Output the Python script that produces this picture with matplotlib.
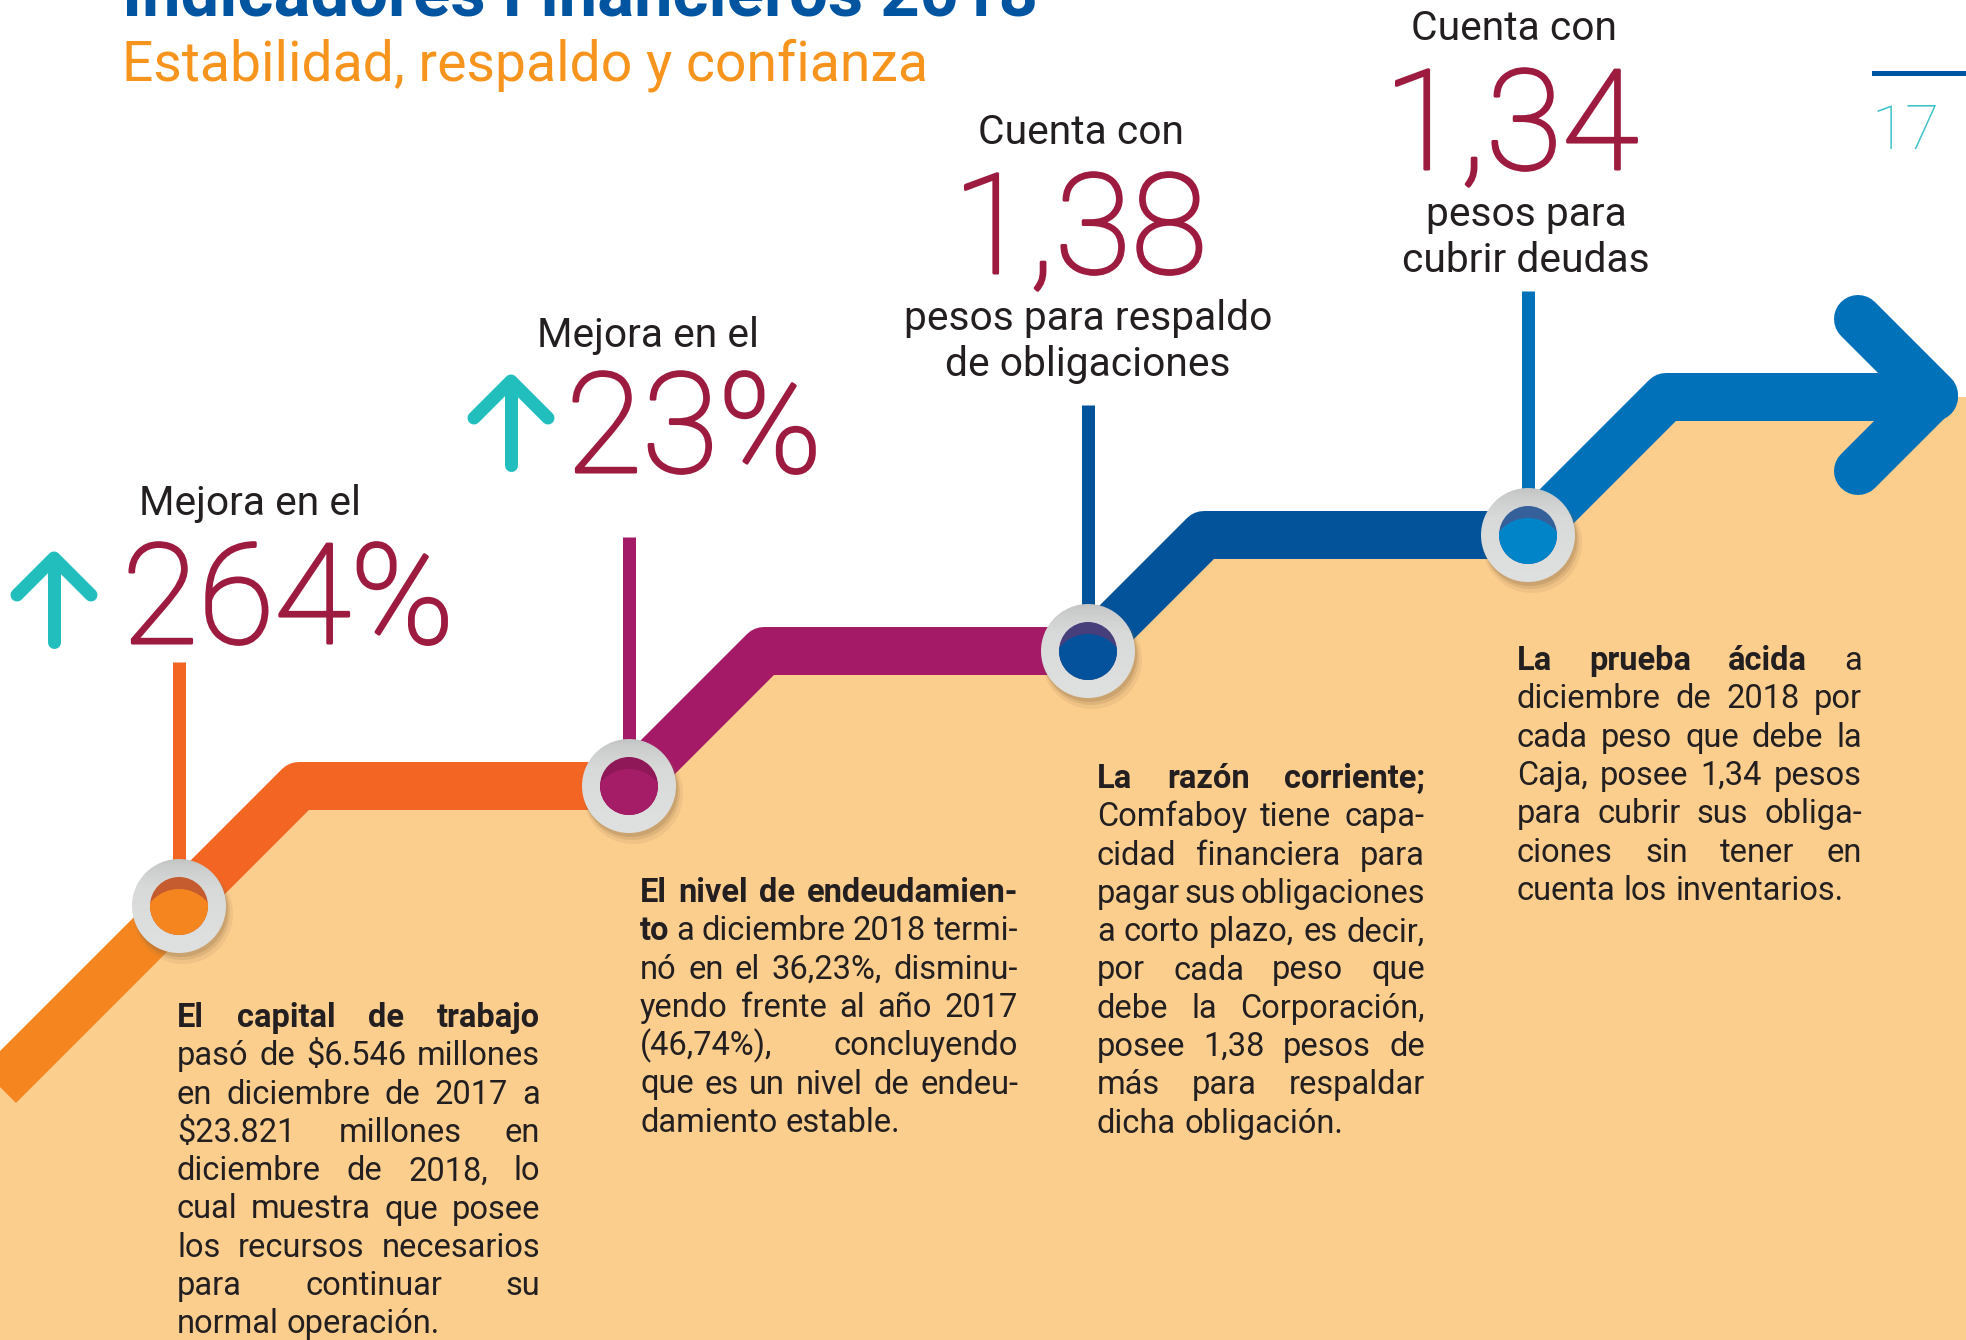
import numpy as np
import matplotlib.pyplot as plt
import matplotlib.patheffects as pe
from matplotlib.patches import Circle, Polygon
from matplotlib.colors import LinearSegmentedColormap


plt.rcParams['font.family'] = ['Roboto', 'DejaVu Sans']

# ---- content ----
title = "Indicadores Financieros 2018"
subtitle = "Estabilidad, respaldo y confianza"
page_number = "17"

intro_labels = ["Mejora en el", "Mejora en el", "Cuenta con", "Cuenta con"]
indicator_values = ["264%", "23%", "1,38", "1,34"]
extra_labels = [[], [], ["pesos para respaldo", "de obligaciones"],
                ["pesos para", "cubrir deudas"]]

# paragraph lines as set in the original (justified), leading words in bold
paragraphs = [
    ["El capital de trabajo",
     "pasó de $6.546 millones",
     "en diciembre de 2017 a",
     "$23.821 millones en",
     "diciembre de 2018, lo",
     "cual muestra que posee",
     "los recursos necesarios",
     "para continuar su",
     "normal operación."],
    ["El nivel de endeudamien-",
     "to a diciembre 2018 termi-",
     "nó en el 36,23%, disminu-",
     "yendo frente al año 2017",
     "(46,74%), concluyendo",
     "que es un nivel de endeu-",
     "damiento estable."],
    ["La razón corriente;",
     "Comfaboy tiene capa-",
     "cidad financiera para",
     "pagar sus obligaciones",
     "a corto plazo, es decir,",
     "por cada peso que",
     "debe la Corporación,",
     "posee 1,38 pesos de",
     "más para respaldar",
     "dicha obligación."],
    ["La prueba ácida a",
     "diciembre de 2018 por",
     "cada peso que debe la",
     "Caja, posee 1,34 pesos",
     "para cubrir sus obliga-",
     "ciones sin tener en",
     "cuenta los inventarios."],
]
bold_words = [4, 5, 3, 3]

# ---- layout (pixel coordinates) ----
W, H = 1966, 1340
node_x = [179, 629, 1088, 1528]
node_y = [906, 786, 651, 535]
level_y = [786, 651, 535, 397]
arrow_end_x = 1934
stem_top = [662, 537, 405, 291]

band_colors = ['#F26522', '#A41A67', '#03539B', '#0171BA']
tail_color = '#F5861F'
inner_colors = ['#F5861F', '#A51C67', '#03529B', '#0284C9']
inner_dark = ['#C45C2F', '#8E1858', '#473F7B', '#35609A']
peach = '#FBCE8E'
text_dark = '#231F20'
number_color = '#9D1B3E'
teal = '#22BEBE'

intro_pos = [(250, 515), (648, 347), (1081, 144), (1514, 40)]
value_pos = [(122, 643, 'left'), (566, 472, 'left'), (1080, 273, 'center'),
             (1511, 169, 'center')]
extra_pos = [None, None, (1088, 330), (1526, 226)]
rise_arrow_x = [54, 511]
rise_arrow_tip = [558, 381]

para_box = [(177, 540, 1027), (640, 1018, 902), (1097, 1425, 788),
            (1517, 1862, 670)]
line_step = 38.3


def px(v):
    return v * 0.72


fig = plt.figure(figsize=(W / 100, H / 100), dpi=100)
ax = fig.add_axes([0, 0, 1, 1])
ax.set_xlim(0, W)
ax.set_ylim(H, 0)
ax.axis('off')
renderer = fig.canvas.get_renderer()


def text_width(s, size, **kw):
    t = ax.text(0, 0, s, fontsize=size, parse_math=False, **kw)
    w = t.get_window_extent(renderer).width
    t.remove()
    return w


def fit_size(s, target, **kw):
    return 100 * target / text_width(s, 100, **kw)


# ---- background fill under the path ----
tail_x0 = -200
tail_y0 = node_y[0] + (node_x[0] - tail_x0)
path_pts = [(tail_x0, tail_y0)]
segments = []
for k in range(4):
    rise = node_y[k] - level_y[k]
    nxt = node_x[k + 1] if k < 3 else arrow_end_x
    seg = [(node_x[k], node_y[k]), (node_x[k] + rise, level_y[k]), (nxt, level_y[k])]
    segments.append(seg)
    path_pts += seg
path_pts += [(W + 20, level_y[3]), (W + 20, H + 20), (tail_x0, H + 20)]
ax.add_patch(Polygon(path_pts, closed=True, color=peach, lw=0, zorder=1))

# ---- coloured band ----
ax.plot([tail_x0, node_x[0]], [tail_y0, node_y[0]], color=tail_color,
        lw=px(48), solid_capstyle='butt', zorder=3)
for k, seg in enumerate(segments):
    xs, ys = zip(*seg)
    cap = 'round' if k == 3 else 'butt'
    ax.plot(xs, ys, color=band_colors[k], lw=px(48), solid_capstyle=cap,
            solid_joinstyle='round', zorder=3)
# arrow head
ax.plot([arrow_end_x - 76, arrow_end_x, arrow_end_x - 76],
        [level_y[3] - 78, level_y[3] - 2, level_y[3] + 74],
        color=band_colors[3], lw=px(48), solid_capstyle='round',
        solid_joinstyle='round', zorder=3)

# ---- stems ----
for k in range(4):
    ax.plot([node_x[k], node_x[k]], [stem_top[k], node_y[k]],
            color=band_colors[k], lw=px(13), solid_capstyle='butt', zorder=2)

# ---- nodes ----
ring_cmap = LinearSegmentedColormap.from_list('ring', ['#BFC0C0', '#D8D9D9', '#DFE0E0'])
for k in range(4):
    cx, cy = node_x[k], node_y[k]
    for off, r, a in [(8, 50, 0.10), (6, 48, 0.16), (4, 47, 0.22)]:
        ax.add_patch(Circle((cx + off * 0.5, cy + off), r, color='#8a6a45',
                            alpha=a, lw=0, zorder=5))
    grad = np.linspace(0, 1, 80)[:, None] ** 0.6
    im = ax.imshow(grad, extent=(cx - 48, cx + 48, cy + 48, cy - 48),
                   origin='upper', cmap=ring_cmap, aspect='auto', zorder=6)
    im.set_clip_path(Circle((cx, cy), 47, transform=ax.transData))
    ax.add_patch(Circle((cx, cy), 29, color=inner_dark[k], lw=0, zorder=7))
    light = Circle((cx, cy + 20), 37, color=inner_colors[k], lw=0, zorder=8)
    light.set_clip_path(Circle((cx, cy), 29, transform=ax.transData))
    ax.add_patch(light)

# ---- rise arrows ----
for x, tip in zip(rise_arrow_x, rise_arrow_tip):
    ax.plot([x, x], [tip + 2, tip + 84], color=teal, lw=px(13),
            solid_capstyle='round', zorder=4)
    ax.plot([x - 37, x, x + 37], [tip + 37, tip, tip + 37], color=teal,
            lw=px(13), solid_capstyle='round', solid_joinstyle='round', zorder=4)

# ---- headings ----
size_t = fit_size(title, 916, fontweight='bold')
ax.text(122, 15, title, fontsize=size_t, fontweight='bold', color='#0054A0',
        va='baseline', ha='left', zorder=10)
size_s = fit_size(subtitle, 806)
ax.text(122, 80, subtitle, fontsize=size_s, color='#F7941D',
        va='baseline', ha='left', zorder=10)
ax.plot([1874, W], [73, 73], color='#0054A0', lw=px(5), zorder=10)
size_p = fit_size(page_number, 68, fontweight='light')
ax.text(1871, 149, page_number, fontsize=size_p, fontweight='light',
        color='#3DC1C8', va='baseline', ha='left', zorder=10)

# ---- indicator labels ----
size_lab = fit_size("Mejora en el", 222)
size_num = fit_size(indicator_values[0], 332, fontweight='light')
thicken = [pe.withStroke(linewidth=2.2, foreground=number_color)]
for k in range(4):
    x, y = intro_pos[k]
    ax.text(x, y, intro_labels[k], fontsize=size_lab, color=text_dark,
            ha='center', va='baseline', zorder=10)
    vx, vy, ha = value_pos[k]
    ax.text(vx, vy, indicator_values[k], fontsize=size_num, fontweight='light',
            color=number_color, ha=ha, va='baseline', zorder=10,
            path_effects=thicken)
    if extra_labels[k]:
        ex, ey = extra_pos[k]
        for j, line in enumerate(extra_labels[k]):
            ax.text(ex, ey + j * 46.5, line, fontsize=size_lab, color=text_dark,
                    ha='center', va='baseline', zorder=10)

# ---- justified paragraphs ----
size_body = fit_size("normal operación.", 263)
space_w = text_width("a a", size_body) - text_width("aa", size_body)
for p, lines in enumerate(paragraphs):
    x0, x1, y0 = para_box[p]
    n_bold = bold_words[p]
    count = 0
    for i, line in enumerate(lines):
        y = y0 + i * line_step
        words = line.split()
        arts = []
        for w in words:
            weight = 'bold' if count < n_bold else 'normal'
            count += 1
            arts.append(ax.text(x0, y, w, fontsize=size_body, fontweight=weight,
                                color=text_dark, va='baseline', ha='left',
                                parse_math=False, zorder=10))
        widths = [a.get_window_extent(renderer).width for a in arts]
        if i == len(lines) - 1 or len(words) == 1:
            gap = space_w
        else:
            gap = (x1 - x0 - sum(widths)) / (len(words) - 1)
        x = x0
        for a, w in zip(arts, widths):
            a.set_x(x)
            x += w + gap

ax.set_xlim(0, W)
ax.set_ylim(H, 0)
fig.savefig('out.png', dpi=100, facecolor='white')
